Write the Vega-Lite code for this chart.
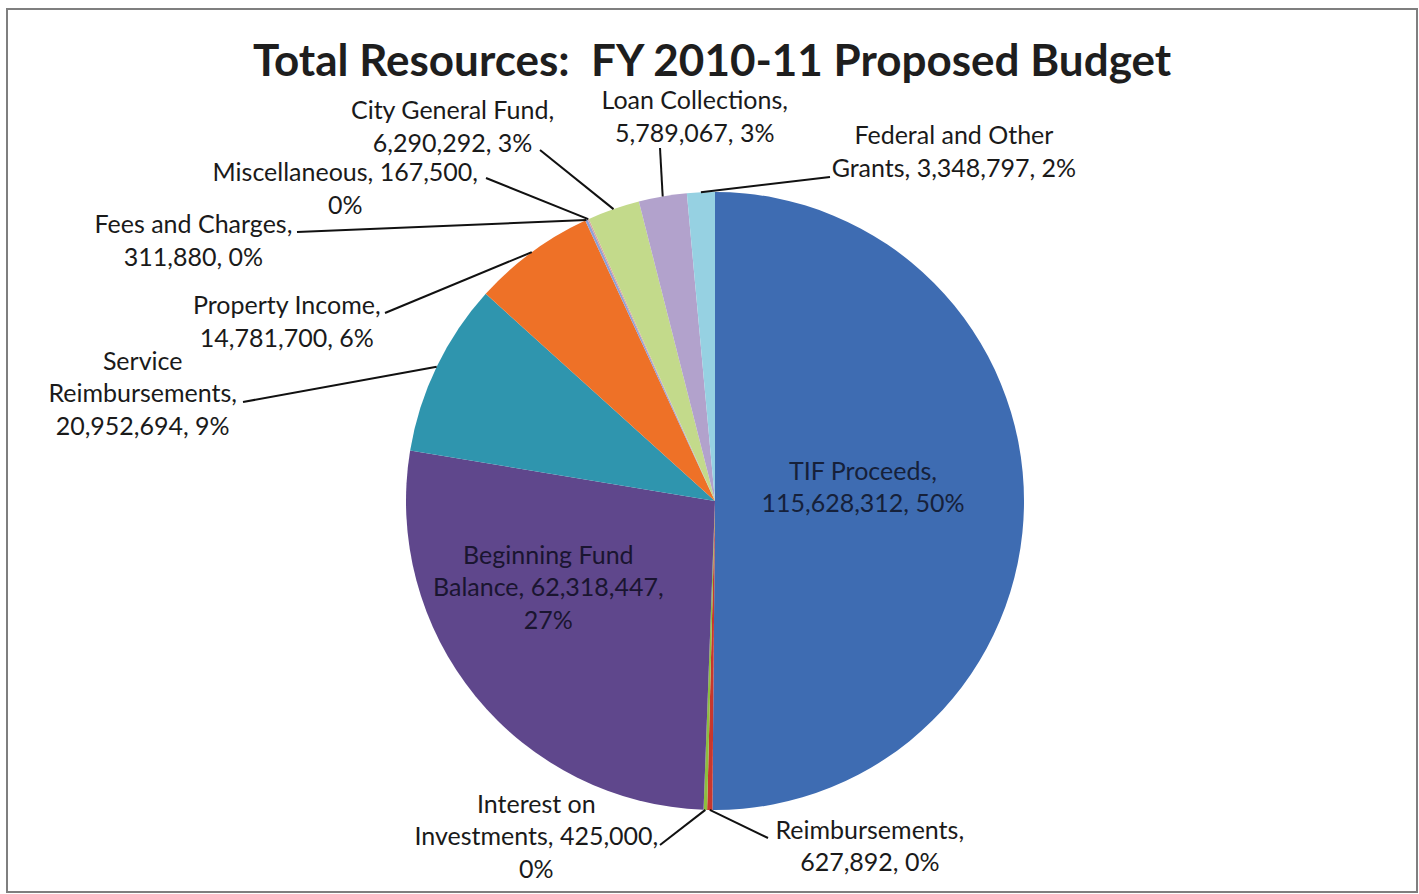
{
  "$schema": "https://vega.github.io/schema/vega-lite/v6.json",
  "width": 1419,
  "height": 894,
  "autosize": {"type": "fit", "contains": "padding"},
  "padding": {"left": 7, "top": 9, "right": 2, "bottom": 2},
  "background": "white",
  "title": {
    "text": "Total Resources: \u00a0FY 2010-11 Proposed Budget",
    "font": "Lato",
    "fontSize": 44,
    "fontWeight": "bold",
    "color": "#1e1e1e",
    "anchor": "middle",
    "offset": -76
  },
  "config": {
    "view": {"stroke": "#7f7f7f", "strokeWidth": 2},
    "text": {"font": "Lato", "fontSize": 25, "color": "#1a1a1a", "lineBreak": "\n", "lineHeight": 32.5, "align": "center", "baseline": "middle"},
    "rule": {"color": "#111111", "strokeWidth": 2}
  },
  "data": {
    "values": [
      {"source": "TIF Proceeds", "value": 115628312, "pct": 50, "order": 1},
      {"source": "Reimbursements", "value": 627892, "pct": 0, "order": 2},
      {"source": "Interest on Investments", "value": 425000, "pct": 0, "order": 3},
      {"source": "Beginning Fund Balance", "value": 62318447, "pct": 27, "order": 4},
      {"source": "Service Reimbursements", "value": 20952694, "pct": 9, "order": 5},
      {"source": "Property Income", "value": 14781700, "pct": 6, "order": 6},
      {"source": "Fees and Charges", "value": 311880, "pct": 0, "order": 7},
      {"source": "Miscellaneous", "value": 167500, "pct": 0, "order": 8},
      {"source": "City General Fund", "value": 6290292, "pct": 3, "order": 9},
      {"source": "Loan Collections", "value": 5789067, "pct": 3, "order": 10},
      {"source": "Federal and Other Grants", "value": 3348797, "pct": 2, "order": 11}
    ]
  },
  "transform": [
    {"joinaggregate": [{"op": "sum", "field": "value", "as": "total"}]},
    {"window": [{"op": "sum", "field": "value", "as": "cum"}], "sort": [{"field": "order"}], "frame": [null, 0]},
    {"calculate": "2*PI*(datum.cum - datum.value/2)/datum.total", "as": "mid"},
    {"calculate": "708 + 309*sin(datum.mid)", "as": "ex"},
    {"calculate": "492 - 309*cos(datum.mid)", "as": "ey"},
    {"calculate": "datum.source + ', ' + format(datum.value, ',') + ', ' + datum.pct + '%'", "as": "lbl"}
  ],
  "layer": [
    {
      "mark": {"type": "arc", "outerRadius": 309},
      "encoding": {
        "x": {"value": 708},
        "y": {"value": 492},
        "theta": {"field": "value", "type": "quantitative", "stack": true},
        "order": {"field": "order", "type": "quantitative"},
        "color": {
          "field": "source",
          "type": "nominal",
          "legend": null,
          "scale": {
            "domain": ["TIF Proceeds", "Reimbursements", "Interest on Investments", "Beginning Fund Balance", "Service Reimbursements", "Property Income", "Fees and Charges", "Miscellaneous", "City General Fund", "Loan Collections", "Federal and Other Grants"],
            "range": ["#3E6CB2", "#C8372D", "#8DBE3F", "#5F478C", "#2F95AE", "#EE7127", "#8FA0D6", "#D8A0A0", "#C3DA8B", "#B2A2CC", "#96D1E2"]
          }
        }
      }
    },
    {
      "transform": [{"filter": "datum.source === 'TIF Proceeds'"}, {"calculate": "replace(datum.lbl, ', ', ',\\n')", "as": "t"}],
      "mark": {"type": "text", "dy": -30, "dx": 3, "color": "#16213a"},
      "encoding": {"x": {"value": 708}, "y": {"value": 492}, "theta": {"field": "mid", "type": "quantitative", "scale": null, "stack": null}, "radius": {"value": 145}, "text": {"field": "t"}}
    },
    {
      "transform": [{"filter": "datum.source === 'Beginning Fund Balance'"}, {"calculate": "replace(datum.source, 'Fund ', 'Fund\\n') + ', ' + format(datum.value, ',') + ',\\n' + datum.pct + '%'", "as": "t"}],
      "mark": {"type": "text", "dx": -35, "dy": -53, "color": "#1a1530"},
      "encoding": {"x": {"value": 708}, "y": {"value": 492}, "theta": {"field": "mid", "type": "quantitative", "scale": null, "stack": null}, "radius": {"value": 170}, "text": {"field": "t"}}
    },
    {
      "transform": [{"filter": "datum.source === 'Federal and Other Grants'"}, {"calculate": "replace(datum.lbl, 'Other ', 'Other\\n')", "as": "t"}],
      "layer": [
        {"mark": "rule", "encoding": {"x": {"field": "ex", "type": "quantitative", "scale": null, "axis": null}, "y": {"field": "ey", "type": "quantitative", "scale": null, "axis": null}, "x2": {"value": 823}, "y2": {"value": 168}}},
        {"mark": {"type": "text", "dx": 253, "dy": -56}, "encoding": {"x": {"value": 708}, "y": {"value": 492}, "theta": {"field": "mid", "type": "quantitative", "scale": null, "stack": null}, "radius": {"value": 309}, "text": {"field": "t"}}}
      ]
    },
    {
      "transform": [{"filter": "datum.source === 'Loan Collections'"}, {"calculate": "replace(datum.lbl, ', ', ',\\n')", "as": "t"}],
      "layer": [
        {"mark": "rule", "encoding": {"x": {"field": "ex", "type": "quantitative", "scale": null, "axis": null}, "y": {"field": "ey", "type": "quantitative", "scale": null, "axis": null}, "x2": {"value": 653}, "y2": {"value": 139}}},
        {"mark": {"type": "text", "dx": 32, "dy": -95}, "encoding": {"x": {"value": 708}, "y": {"value": 492}, "theta": {"field": "mid", "type": "quantitative", "scale": null, "stack": null}, "radius": {"value": 309}, "text": {"field": "t"}}}
      ]
    },
    {
      "transform": [{"filter": "datum.source === 'City General Fund'"}, {"calculate": "replace(datum.lbl, ', ', ',\\n')", "as": "t"}],
      "layer": [
        {"mark": "rule", "encoding": {"x": {"field": "ex", "type": "quantitative", "scale": null, "axis": null}, "y": {"field": "ey", "type": "quantitative", "scale": null, "axis": null}, "x2": {"value": 533}, "y2": {"value": 141}}},
        {"mark": {"type": "text", "dx": -161, "dy": -98}, "encoding": {"x": {"value": 708}, "y": {"value": 492}, "theta": {"field": "mid", "type": "quantitative", "scale": null, "stack": null}, "radius": {"value": 309}, "text": {"field": "t"}}}
      ]
    },
    {
      "transform": [{"filter": "datum.source === 'Miscellaneous'"}, {"calculate": "datum.source + ', ' + format(datum.value, ',') + ',\\n' + datum.pct + '%'", "as": "t"}],
      "layer": [
        {"mark": "rule", "encoding": {"x": {"field": "ex", "type": "quantitative", "scale": null, "axis": null}, "y": {"field": "ey", "type": "quantitative", "scale": null, "axis": null}, "x2": {"value": 479}, "y2": {"value": 169}}},
        {"mark": {"type": "text", "dx": -243, "dy": -46}, "encoding": {"x": {"value": 708}, "y": {"value": 492}, "theta": {"field": "mid", "type": "quantitative", "scale": null, "stack": null}, "radius": {"value": 309}, "text": {"field": "t"}}}
      ]
    },
    {
      "transform": [{"filter": "datum.source === 'Fees and Charges'"}, {"calculate": "replace(datum.lbl, ', ', ',\\n')", "as": "t"}],
      "layer": [
        {"mark": "rule", "encoding": {"x": {"field": "ex", "type": "quantitative", "scale": null, "axis": null}, "y": {"field": "ey", "type": "quantitative", "scale": null, "axis": null}, "x2": {"value": 290}, "y2": {"value": 223}}},
        {"mark": {"type": "text", "dx": -393, "dy": 5}, "encoding": {"x": {"value": 708}, "y": {"value": 492}, "theta": {"field": "mid", "type": "quantitative", "scale": null, "stack": null}, "radius": {"value": 309}, "text": {"field": "t"}}}
      ]
    },
    {
      "transform": [{"filter": "datum.source === 'Property Income'"}, {"calculate": "replace(datum.lbl, ', ', ',\\n')", "as": "t"}],
      "layer": [
        {"mark": "rule", "encoding": {"x": {"field": "ex", "type": "quantitative", "scale": null, "axis": null}, "y": {"field": "ey", "type": "quantitative", "scale": null, "axis": null}, "x2": {"value": 378}, "y2": {"value": 304}}},
        {"mark": {"type": "text", "dx": -245, "dy": 54}, "encoding": {"x": {"value": 708}, "y": {"value": 492}, "theta": {"field": "mid", "type": "quantitative", "scale": null, "stack": null}, "radius": {"value": 309}, "text": {"field": "t"}}}
      ]
    },
    {
      "transform": [{"filter": "datum.source === 'Service Reimbursements'"}, {"calculate": "replace(replace(datum.lbl, ', ', ',\\n'), 'Service ', 'Service\\n')", "as": "t"}],
      "layer": [
        {"mark": "rule", "encoding": {"x": {"field": "ex", "type": "quantitative", "scale": null, "axis": null}, "y": {"field": "ey", "type": "quantitative", "scale": null, "axis": null}, "x2": {"value": 236}, "y2": {"value": 393}}},
        {"mark": {"type": "text", "dx": -294, "dy": -5}, "encoding": {"x": {"value": 708}, "y": {"value": 492}, "theta": {"field": "mid", "type": "quantitative", "scale": null, "stack": null}, "radius": {"value": 309}, "text": {"field": "t"}}}
      ]
    },
    {
      "transform": [{"filter": "datum.source === 'Interest on Investments'"}, {"calculate": "replace(datum.source, 'on ', 'on\\n') + ', ' + format(datum.value, ',') + ',\\n' + datum.pct + '%'", "as": "t"}],
      "layer": [
        {"mark": "rule", "encoding": {"x": {"field": "ex", "type": "quantitative", "scale": null, "axis": null}, "y": {"field": "ey", "type": "quantitative", "scale": null, "axis": null}, "x2": {"value": 653}, "y2": {"value": 836}}},
        {"mark": {"type": "text", "dx": -169, "dy": -5}, "encoding": {"x": {"value": 708}, "y": {"value": 492}, "theta": {"field": "mid", "type": "quantitative", "scale": null, "stack": null}, "radius": {"value": 309}, "text": {"field": "t"}}}
      ]
    },
    {
      "transform": [{"filter": "datum.source === 'Reimbursements'"}, {"calculate": "replace(datum.lbl, ', ', ',\\n')", "as": "t"}],
      "layer": [
        {"mark": "rule", "encoding": {"x": {"field": "ex", "type": "quantitative", "scale": null, "axis": null}, "y": {"field": "ey", "type": "quantitative", "scale": null, "axis": null}, "x2": {"value": 761}, "y2": {"value": 829}}},
        {"mark": {"type": "text", "dx": 160, "dy": 21}, "encoding": {"x": {"value": 708}, "y": {"value": 492}, "theta": {"field": "mid", "type": "quantitative", "scale": null, "stack": null}, "radius": {"value": 309}, "text": {"field": "t"}}}
      ]
    }
  ]
}
